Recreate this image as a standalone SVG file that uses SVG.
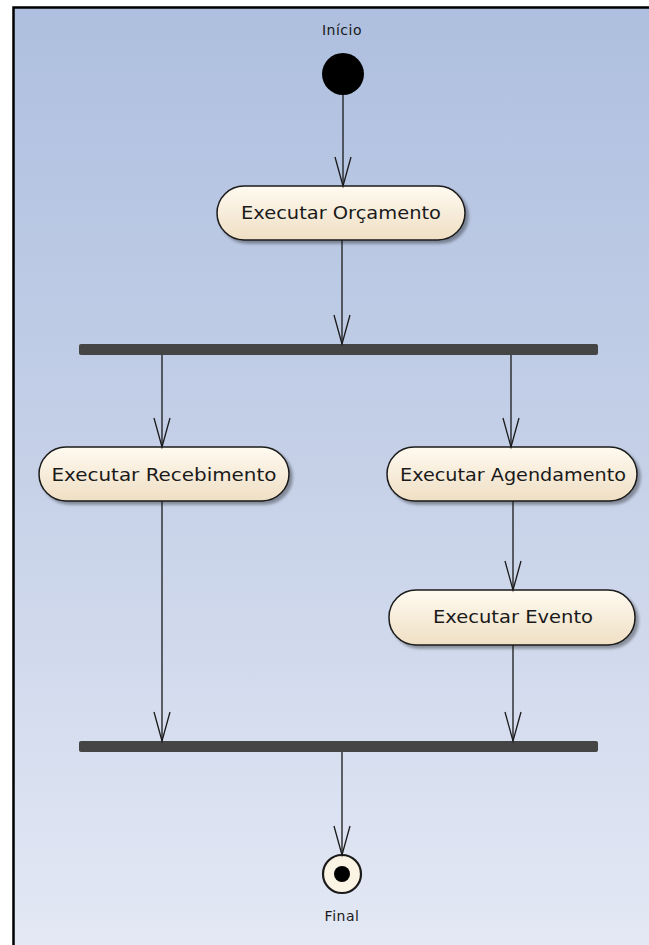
<svg xmlns="http://www.w3.org/2000/svg" width="649" height="945" viewBox="0 0 649 945">
<defs>
<linearGradient id="bg" x1="0" y1="0" x2="0" y2="1">
<stop offset="0" stop-color="#aebfdf"/>
<stop offset="0.5" stop-color="#c6d1e8"/>
<stop offset="1" stop-color="#e3e8f4"/>
</linearGradient>
<linearGradient id="act" x1="0" y1="0" x2="0" y2="1">
<stop offset="0" stop-color="#fffaf0"/>
<stop offset="1" stop-color="#efdfc4"/>
</linearGradient>
<marker id="arr" markerUnits="userSpaceOnUse" markerWidth="40" markerHeight="24" viewBox="-30 -12 32 24" refX="0" refY="0" orient="auto">
<path d="M-29,-8 L0,0 L-29,8" fill="none" stroke="#1a1a1a" stroke-width="1.3"/>
</marker>
<filter id="sh" x="-10%" y="-20%" width="130%" height="160%">
<feGaussianBlur in="SourceAlpha" stdDeviation="1.5"/>
<feOffset dx="3" dy="3" result="b"/>
<feComponentTransfer><feFuncA type="linear" slope="0.35"/></feComponentTransfer>
<feMerge><feMergeNode/><feMergeNode in="SourceGraphic"/></feMerge>
</filter>
</defs>
<style>
.act{fill:url(#act);stroke:#1a1a1a;stroke-width:1.5;filter:url(#sh)}
.lbl{font-family:"DejaVu Sans","Liberation Sans",sans-serif;font-size:17px;fill:#1a1a1a;text-anchor:middle}
.cap{font-family:"DejaVu Sans","Liberation Sans",sans-serif;font-size:14px;fill:#1a1a1a;text-anchor:middle;letter-spacing:0.5px}
.bar{fill:#454545}
.con{stroke:#1a1a1a;stroke-width:1.3;fill:none;marker-end:url(#arr)}
</style>
<rect x="0" y="0" width="649" height="945" fill="#ffffff"/>
<rect x="13" y="7" width="636" height="938" fill="url(#bg)"/>
<path d="M13.5,945 L13.5,7.5 L649,7.5" fill="none" stroke="#000" stroke-width="2.5"/>

<g id="inicio">
<circle cx="343" cy="74" r="21" fill="#000"/>
<text class="cap" x="342" y="35">Início</text>
</g>
<g id="orcamento">
<rect class="act" x="217" y="186" width="248" height="54" rx="27"/>
<text class="lbl" x="341" y="219" textLength="200" lengthAdjust="spacingAndGlyphs">Executar Orçamento</text>
</g>
<g id="fork">
<rect class="bar" x="79" y="344" width="519" height="11" rx="2"/>
</g>
<g id="recebimento">
<rect class="act" x="39" y="447" width="250" height="54" rx="27"/>
<text class="lbl" x="164" y="481" textLength="225" lengthAdjust="spacingAndGlyphs">Executar Recebimento</text>
</g>
<g id="agendamento">
<rect class="act" x="387" y="447" width="250" height="54" rx="27"/>
<text class="lbl" x="513" y="481" textLength="226" lengthAdjust="spacingAndGlyphs">Executar Agendamento</text>
</g>
<g id="evento">
<rect class="act" x="389" y="590" width="246" height="55" rx="27"/>
<text class="lbl" x="513" y="623" textLength="160" lengthAdjust="spacingAndGlyphs">Executar Evento</text>
</g>
<g id="join">
<rect class="bar" x="79" y="741" width="519" height="11" rx="2"/>
</g>
<g id="final">
<circle cx="342" cy="874" r="19" fill="#fbf3e4" stroke="#1a1a1a" stroke-width="2.2"/>
<circle cx="342" cy="874" r="8" fill="#000"/>
<text class="cap" x="342" y="921">Final</text>
</g>

<g id="connectors">
<line class="con" x1="343" y1="95" x2="343" y2="186"/>
<line class="con" x1="342" y1="240" x2="342" y2="344"/>
<line class="con" x1="162" y1="355" x2="162" y2="447"/>
<line class="con" x1="511" y1="355" x2="511" y2="447"/>
<line class="con" x1="513" y1="501" x2="513" y2="590"/>
<line class="con" x1="162" y1="501" x2="162" y2="741"/>
<line class="con" x1="513" y1="645" x2="513" y2="741"/>
<line class="con" x1="342" y1="752" x2="342" y2="855"/>
</g>
</svg>
